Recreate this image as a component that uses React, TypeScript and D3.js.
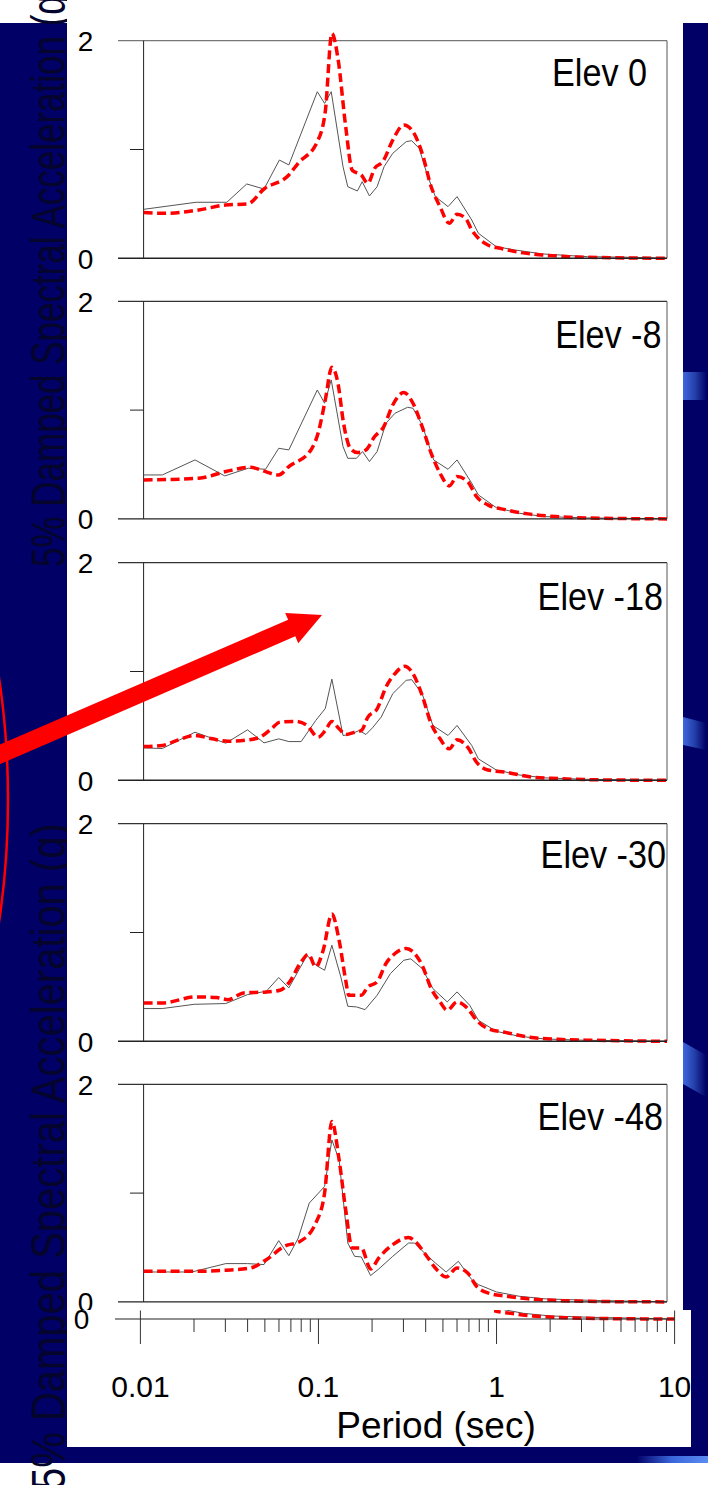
import React from 'react';
import * as d3 from 'd3';

// ---------- DATA ----------
const elevLabels = ['Elev 0', 'Elev -8', 'Elev -18', 'Elev -30', 'Elev -48'];
const yTickValues = [0, 1, 2];
const yTickLabels = ['0', '', '2'];
const xTickValues = [0.01, 0.1, 1, 10];
const xTickLabels = ['0.01', '0.1', '1', '10'];
const xAxisTitle = 'Period (sec)';
const yAxisTitle = '5% Damped Spectral Acceleration (g)';

// Elev 0
const recT0 = [0.01, 0.02, 0.03, 0.039, 0.049, 0.06, 0.068, 0.099, 0.109, 0.119, 0.139, 0.148, 0.168, 0.179, 0.197, 0.218, 0.239, 0.268, 0.32, 0.344, 0.38, 0.42, 0.47, 0.556, 0.626, 0.76, 0.83, 1.05, 1.34, 1.93, 3.5, 6.3, 10];
const recSa0 = [0.45, 0.515, 0.515, 0.683, 0.637, 0.903, 0.858, 1.531, 1.424, 1.531, 0.842, 0.658, 0.619, 0.704, 0.573, 0.658, 0.842, 0.965, 1.072, 1.081, 1.01, 0.78, 0.567, 0.475, 0.567, 0.352, 0.23, 0.107, 0.077, 0.04, 0.015, 0.009, 0.0];
const calT0 = [0.01, 0.0128, 0.0207, 0.0296, 0.0394, 0.049, 0.068, 0.0768, 0.099, 0.11, 0.12, 0.13, 0.144, 0.157, 0.177, 0.193, 0.211, 0.235, 0.268, 0.31, 0.35, 0.395, 0.445, 0.5, 0.565, 0.626, 0.7, 0.76, 0.83, 0.94, 1.11, 1.42, 1.93, 2.75, 4.7, 10];
const calSa0 = [0.42, 0.413, 0.444, 0.49, 0.499, 0.637, 0.766, 0.873, 1.072, 1.35, 2.067, 1.838, 1.21, 0.81, 0.766, 0.689, 0.827, 0.888, 1.087, 1.225, 1.164, 0.965, 0.658, 0.475, 0.322, 0.404, 0.368, 0.26, 0.184, 0.122, 0.092, 0.055, 0.031, 0.015, 0.006, 0.0];

// Elev -8
const recT1 = [0.01, 0.0128, 0.0197, 0.0292, 0.0398, 0.05, 0.0595, 0.068, 0.099, 0.109, 0.119, 0.139, 0.148, 0.166, 0.18, 0.197, 0.218, 0.245, 0.276, 0.326, 0.35, 0.395, 0.46, 0.556, 0.626, 0.76, 0.83, 1.05, 1.42, 2.0, 3.5, 10];
const recSa1 = [0.404, 0.404, 0.542, 0.395, 0.466, 0.456, 0.649, 0.634, 1.185, 1.063, 1.277, 0.665, 0.557, 0.557, 0.619, 0.527, 0.619, 0.879, 0.971, 1.026, 1.017, 0.864, 0.542, 0.456, 0.542, 0.328, 0.22, 0.104, 0.052, 0.021, 0.009, 0.0];
const calT1 = [0.01, 0.0207, 0.0296, 0.041, 0.048, 0.0595, 0.068, 0.091, 0.1, 0.11, 0.12, 0.13, 0.14, 0.153, 0.168, 0.188, 0.211, 0.238, 0.268, 0.31, 0.35, 0.395, 0.445, 0.5, 0.565, 0.626, 0.72, 0.81, 0.94, 1.2, 1.6, 2.3, 4.2, 10];
const calSa1 = [0.358, 0.374, 0.435, 0.475, 0.444, 0.404, 0.481, 0.634, 0.787, 1.093, 1.394, 1.247, 0.879, 0.649, 0.61, 0.634, 0.757, 0.848, 1.047, 1.161, 1.063, 0.848, 0.603, 0.42, 0.303, 0.389, 0.343, 0.205, 0.129, 0.083, 0.046, 0.021, 0.006, 0.0];

// Elev -18
const recT2 = [0.01, 0.0128, 0.0197, 0.0296, 0.0394, 0.049, 0.0595, 0.068, 0.08, 0.097, 0.11, 0.12, 0.139, 0.153, 0.172, 0.188, 0.205, 0.23, 0.268, 0.32, 0.344, 0.395, 0.455, 0.556, 0.626, 0.76, 0.83, 1.05, 1.42, 2.0, 3.5, 10];
const recSa2 = [0.298, 0.292, 0.442, 0.341, 0.464, 0.344, 0.381, 0.356, 0.356, 0.55, 0.66, 0.93, 0.412, 0.421, 0.458, 0.421, 0.482, 0.581, 0.796, 0.919, 0.925, 0.796, 0.504, 0.412, 0.504, 0.32, 0.197, 0.095, 0.049, 0.022, 0.009, 0.0];
const calT2 = [0.01, 0.0128, 0.0158, 0.0197, 0.0247, 0.0305, 0.04, 0.0465, 0.054, 0.0605, 0.0745, 0.0865, 0.1, 0.11, 0.12, 0.132, 0.144, 0.162, 0.177, 0.193, 0.218, 0.245, 0.276, 0.313, 0.35, 0.395, 0.445, 0.5, 0.565, 0.626, 0.72, 0.81, 0.94, 1.2, 1.6, 2.4, 4.7, 10];
const calSa2 = [0.31, 0.32, 0.372, 0.412, 0.381, 0.359, 0.372, 0.396, 0.473, 0.535, 0.541, 0.504, 0.396, 0.458, 0.541, 0.473, 0.421, 0.442, 0.458, 0.581, 0.657, 0.857, 0.98, 1.048, 0.98, 0.78, 0.519, 0.381, 0.289, 0.372, 0.304, 0.166, 0.095, 0.074, 0.034, 0.015, 0.003, 0.0];

// Elev -30
const recT3 = [0.01, 0.0128, 0.0195, 0.0296, 0.0394, 0.0505, 0.0595, 0.068, 0.0865, 0.097, 0.109, 0.12, 0.135, 0.148, 0.166, 0.186, 0.218, 0.26, 0.31, 0.34, 0.395, 0.455, 0.55, 0.626, 0.74, 0.83, 1.05, 1.42, 2.0, 3.5, 10];
const recSa3 = [0.301, 0.301, 0.34, 0.347, 0.429, 0.46, 0.586, 0.491, 0.791, 0.7, 0.653, 0.883, 0.592, 0.322, 0.316, 0.291, 0.423, 0.623, 0.745, 0.758, 0.669, 0.485, 0.362, 0.454, 0.331, 0.193, 0.092, 0.046, 0.021, 0.009, 0.0];
const calT3 = [0.01, 0.0128, 0.02, 0.0262, 0.0305, 0.0375, 0.0505, 0.0605, 0.068, 0.079, 0.088, 0.097, 0.107, 0.12, 0.132, 0.144, 0.15, 0.177, 0.193, 0.218, 0.245, 0.276, 0.32, 0.35, 0.395, 0.445, 0.5, 0.55, 0.626, 0.72, 0.81, 0.94, 1.2, 1.6, 2.4, 3.9, 10];
const calSa3 = [0.353, 0.353, 0.408, 0.402, 0.383, 0.445, 0.454, 0.469, 0.537, 0.715, 0.8, 0.684, 0.837, 1.169, 0.929, 0.561, 0.423, 0.423, 0.5, 0.546, 0.715, 0.807, 0.853, 0.822, 0.699, 0.485, 0.362, 0.285, 0.362, 0.301, 0.193, 0.117, 0.08, 0.04, 0.018, 0.009, 0.0];

// Elev -48
const recT4 = [0.01, 0.0189, 0.0296, 0.0394, 0.049, 0.0595, 0.068, 0.077, 0.089, 0.109, 0.12, 0.132, 0.148, 0.162, 0.177, 0.2, 0.223, 0.268, 0.33, 0.358, 0.407, 0.47, 0.542, 0.637, 0.76, 0.83, 1.05, 1.42, 2.0, 3.5, 10];
const recSa4 = [0.275, 0.275, 0.352, 0.352, 0.343, 0.563, 0.425, 0.587, 0.908, 1.061, 1.489, 1.306, 0.541, 0.419, 0.413, 0.242, 0.303, 0.419, 0.541, 0.541, 0.45, 0.358, 0.275, 0.373, 0.205, 0.159, 0.092, 0.052, 0.028, 0.015, 0.0];
const calT4 = [0.01, 0.0195, 0.0296, 0.041, 0.0505, 0.064, 0.079, 0.097, 0.109, 0.12, 0.132, 0.144, 0.157, 0.177, 0.2, 0.223, 0.268, 0.33, 0.36, 0.407, 0.47, 0.542, 0.626, 0.72, 0.81, 0.94, 1.2, 1.6, 2.4, 4.7, 10];
const calSa4 = [0.281, 0.281, 0.291, 0.312, 0.388, 0.511, 0.557, 0.725, 1.0, 1.657, 1.306, 0.847, 0.495, 0.495, 0.303, 0.404, 0.526, 0.593, 0.557, 0.45, 0.312, 0.229, 0.312, 0.266, 0.144, 0.083, 0.052, 0.028, 0.012, 0.003, 0.0];

const recordedT = [recT0, recT1, recT2, recT3, recT4];
const recordedSa = [recSa0, recSa1, recSa2, recSa3, recSa4];
const computedT = [calT0, calT1, calT2, calT3, calT4];
const computedSa = [calSa0, calSa1, calSa2, calSa3, calSa4];

// ---------- LAYOUT ----------
const W = 708;
const H = 1485;
const NAVY = '#000066';
const FONT = "'Liberation Sans', Arial, Helvetica, sans-serif";
const panelTops = [40.7, 301.3, 562.7, 823.7, 1084.3];
const panelH = 217.6;
const plotLeft = 143.6;
const plotRight = 667;
const elevRight = [647, 661.5, 663, 666, 663];
const elevBaseOff = [45.3, 47, 47.3, 44.3, 45.7];

const zip = (t: number[], v: number[]) => t.map((p, i) => ({ t: p, v: v[i] }));

export default function App() {
  const xPanel = d3.scaleLog().domain([0.01, 10]).range([plotLeft, plotRight]);
  const xStrip = d3.scaleLog().domain([0.01, 10]).range([140.4, 674.6]);
  const stripBase = 1319;
  const yStrip = d3.scaleLinear().domain([0, 2]).range([stripBase, stripBase - panelH]);

  // arrow geometry
  const tip = [322, 615];
  const ang = (-23.4 * Math.PI) / 180;
  const u = [Math.cos(ang), Math.sin(ang)];
  const n = [-u[1], u[0]];
  const headLen = 33;
  const headHalf = 16.5;
  const shaftHalf = 9;
  const base = [tip[0] - u[0] * headLen, tip[1] - u[1] * headLen];
  const tail = [base[0] - u[0] * 340, base[1] - u[1] * 340];
  const arrowPts = [
    [tail[0] + n[0] * shaftHalf, tail[1] + n[1] * shaftHalf],
    [base[0] + n[0] * shaftHalf, base[1] + n[1] * shaftHalf],
    [base[0] + n[0] * headHalf, base[1] + n[1] * headHalf],
    tip,
    [base[0] - n[0] * headHalf, base[1] - n[1] * headHalf],
    [base[0] - n[0] * shaftHalf, base[1] - n[1] * shaftHalf],
    [tail[0] - n[0] * shaftHalf, tail[1] - n[1] * shaftHalf],
  ]
    .map((p) => p.join(','))
    .join(' ');

  const stripTicks = xStrip.ticks();

  const tailRec = zip(recordedT[4], recordedSa[4]).filter((d) => d.t >= 0.8);
  const tailCal = zip(computedT[4], computedSa[4]).filter((d) => d.t >= 0.8);
  const stripRecLine = d3.line<{ t: number; v: number }>().x((d) => xStrip(d.t)).y((d) => yStrip(d.v));
  const stripCalLine = d3
    .line<{ t: number; v: number }>()
    .x((d) => xStrip(d.t))
    .y((d) => yStrip(d.v))
    .curve(d3.curveMonotoneX);

  return (
    <svg
      width={W}
      height={H}
      viewBox={`0 0 ${W} ${H}`}
      style={{ position: 'absolute', left: 0, top: 0, background: '#fff' }}
      fontFamily={FONT}
    >
      <defs>
        <linearGradient id="blueBar" x1="0" x2="1" y1="0" y2="0">
          <stop offset="0" stopColor="#3f66e0" />
          <stop offset="0.5" stopColor="#2440a8" />
          <stop offset="1" stopColor={NAVY} />
        </linearGradient>
        <linearGradient id="blueStreak" x1="0" x2="1" y1="0" y2="0">
          <stop offset="0" stopColor={NAVY} />
          <stop offset="0.5" stopColor="#3a66dc" />
          <stop offset="1" stopColor="#5b8cf2" />
        </linearGradient>
        <clipPath id="stripClip">
          <rect x={494} y={1310} width={197} height={30} />
        </clipPath>
      </defs>

      {/* slide background */}
      <rect x={0} y={0} width={W} height={H} fill="#fff" />
      <rect x={0} y={23} width={W} height={1440} fill={NAVY} />

      {/* decorative blue shapes on the right */}
      <rect x={683} y={372} width={24} height={28} fill="url(#blueBar)" />
      <polygon points="683,717 706,723 706,750 683,745" fill="url(#blueBar)" />
      <polygon points="683,1042 706,1055 706,1097 683,1084" fill="url(#blueBar)" />
      <rect x={636} y={1456} width={72} height={7} fill="url(#blueStreak)" />

      {/* rotated y-axis titles (dark, behind the white panels) */}
      <text
        transform="translate(65,567) rotate(-90) scale(1,1.35)"
        fontSize={35}
        fill="#04042c"
      >
        {yAxisTitle}
      </text>
      <text
        transform="translate(65,1490) rotate(-90) scale(1,1.2)"
        fontSize={40}
        fill="#04042c"
      >
        {yAxisTitle}
      </text>

      {/* white chart panel */}
      <rect x={67} y={0} width={616} height={1310} fill="#fff" />

      {/* panels */}
      {panelTops.map((top, i) => {
        const y = d3.scaleLinear().domain([0, 2]).range([top + panelH, top]);
        const rec = zip(recordedT[i], recordedSa[i]);
        const cal = zip(computedT[i], computedSa[i]);
        const recLine = d3.line<{ t: number; v: number }>().x((d) => xPanel(d.t)).y((d) => y(d.v));
        const calLine = d3
          .line<{ t: number; v: number }>()
          .x((d) => xPanel(d.t))
          .y((d) => y(d.v))
          .curve(d3.curveMonotoneX);
        return (
          <g key={i}>
            <line x1={118} x2={plotRight} y1={y(2)} y2={y(2)} stroke={i === 0 ? '#777' : '#333'} strokeWidth={1.3} />
            <line x1={plotRight} x2={plotRight} y1={y(2)} y2={y(0)} stroke="#555" strokeWidth={1} />
            <line x1={plotLeft} x2={plotLeft} y1={y(2)} y2={y(0)} stroke="#222" strokeWidth={1} />
            <line x1={130} x2={plotLeft} y1={y(1)} y2={y(1)} stroke="#222" strokeWidth={1} />
            <path d={recLine(rec) || ''} fill="none" stroke="#555" strokeWidth={1} />
            <path
              d={calLine(cal) || ''}
              fill="none"
              stroke="#ff0000"
              strokeWidth={3.5}
              strokeDasharray="9 4.5"
            />
            <line x1={118} x2={plotRight} y1={y(0)} y2={y(0)} stroke="#222" strokeWidth={1.4} />
            {yTickValues.map((tv, k) =>
              yTickLabels[k] ? (
                <text key={k} x={85.5} y={y(tv) + 10.5} fontSize={28} textAnchor="middle" fill="#000">
                  {yTickLabels[k]}
                </text>
              ) : null
            )}
            <text
              transform={`translate(${elevRight[i]},${top + elevBaseOff[i]}) scale(0.9,1)`}
              fontSize={38}
              textAnchor="end"
              fill="#000"
            >
              {elevLabels[i]}
            </text>
          </g>
        );
      })}

      {/* pasted x-axis strip */}
      <rect x={67} y={1310} width={624} height={137} fill="#fff" />
      <g clipPath="url(#stripClip)">
        <path d={stripRecLine(tailRec) || ''} fill="none" stroke="#555" strokeWidth={1} />
        <path
          d={stripCalLine(tailCal) || ''}
          fill="none"
          stroke="#ff0000"
          strokeWidth={3.5}
          strokeDasharray="9 4.5"
        />
      </g>
      <line x1={115} x2={675} y1={stripBase} y2={stripBase} stroke="#222" strokeWidth={1.2} />
      {stripTicks.map((t, k) => {
        const major = Math.abs(Math.log10(t) - Math.round(Math.log10(t))) < 1e-9;
        const edge = t === 0.01 || t === 10;
        const x = xStrip(t);
        return (
          <line
            key={k}
            x1={x}
            x2={x}
            y1={edge ? 1310.5 : stripBase}
            y2={major ? 1344 : 1332}
            stroke="#333"
            strokeWidth={1}
          />
        );
      })}
      <text x={81.5} y={1329} fontSize={28} textAnchor="middle" fill="#000">
        0
      </text>
      {xTickValues.map((t, k) => (
        <text key={k} x={xStrip(t)} y={1397} fontSize={30} textAnchor="middle" fill="#000">
          {xTickLabels[k]}
        </text>
      ))}
      <text x={436} y={1438} fontSize={37} textAnchor="middle" fill="#000">
        {xAxisTitle}
      </text>
      {/* cover right edge of strip so "10" is cut like the reference */}
      <rect x={691} y={1310} width={17} height={137} fill={NAVY} />

      {/* red annotations */}
      <ellipse cx={-96} cy={800} rx={104} ry={300} fill="none" stroke="#ff0000" strokeWidth={2.5} />
      <polygon points={arrowPts} fill="#ff0000" />
    </svg>
  );
}
